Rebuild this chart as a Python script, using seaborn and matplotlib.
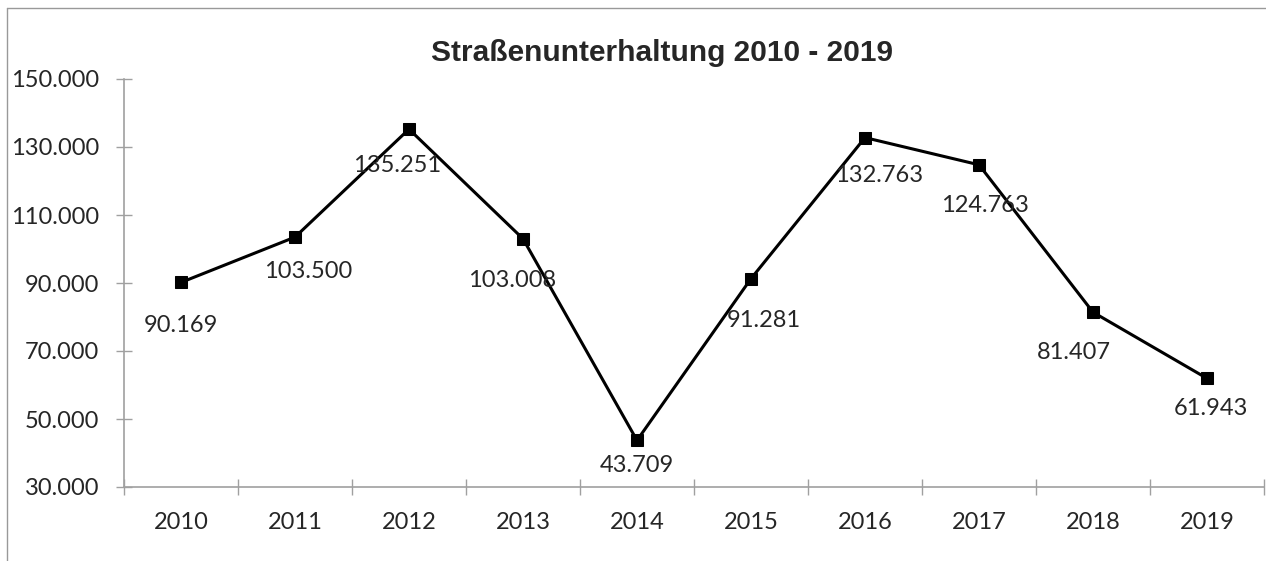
import matplotlib
matplotlib.use("Agg")
import matplotlib.pyplot as plt
import seaborn as sns
import pandas as pd
from matplotlib.ticker import FuncFormatter, FixedLocator
from matplotlib.lines import Line2D

years = ["2010", "2011", "2012", "2013", "2014", "2015", "2016", "2017", "2018", "2019"]
kosten = [90169, 103500, 135251, 103008, 43709, 91281, 132763, 124763, 81407, 61943]
title = "Straßenunterhaltung 2010 - 2019"

# label offsets in pixels (dx, dy) relative to the point
label_offsets = [(0, -43), (13, -34), (-12, -36), (-11, -42), (0, -25),
                 (13, -42), (14, -38), (6, -41), (-19, -40), (4, -30)]


def de_fmt(v, pos=None):
    return f"{int(round(v)):,}".replace(",", ".")


sns.set_style("white", {"xtick.bottom": True, "ytick.left": True})
plt.rcParams["font.family"] = ["Lato", "DejaVu Sans"]

W, H = 1266, 561
fig = plt.figure(figsize=(W / 100, H / 100), dpi=100)
ax = fig.add_axes([124 / W, 1 - 487 / H, 1140 / W, (487 - 79) / H])

df = pd.DataFrame({"Jahr": years, "Kosten": kosten})
sns.lineplot(data=df, x="Jahr", y="Kosten", ax=ax, color="black", linewidth=2.2,
             marker="s", markersize=8, markeredgecolor="black", markerfacecolor="black")

ax.set_xlim(-0.5, len(years) - 0.5)
ax.set_ylim(30000, 150000)
ax.set_yticks(range(30000, 150001, 20000))
ax.yaxis.set_major_formatter(FuncFormatter(de_fmt))
ax.set_xlabel("")
ax.set_ylabel("")

ax.xaxis.set_minor_locator(FixedLocator([i - 0.5 for i in range(len(years) + 1)]))
ax.tick_params(axis="x", which="major", bottom=True, length=0, labelsize=17, pad=18)
ax.tick_params(axis="x", which="minor", bottom=True, length=12, width=1, color="#a0a0a0", direction="inout")
ax.tick_params(axis="y", left=True, length=12, width=1, color="#a0a0a0", direction="inout", labelsize=17, pad=12)

for s in ["top", "right"]:
    ax.spines[s].set_visible(False)
for s in ["left", "bottom"]:
    ax.spines[s].set_color("#a0a0a0")
    ax.spines[s].set_linewidth(1.2)

for i, (v, (dx, dy)) in enumerate(zip(kosten, label_offsets)):
    ax.annotate(de_fmt(v), (i, v), xytext=(dx * 0.72, dy * 0.72), textcoords="offset points",
                ha="center", va="center", fontsize=17)

fig.text(662 / W, 1 - 53 / H, title, ha="center", va="center", fontsize=21.5,
         fontweight="bold", family=["Liberation Sans", "DejaVu Sans"])

# outer chart frame (only left and top visible in the crop)
fig.add_artist(Line2D([7 / W, 7 / W], [0, 1 - 8 / H], transform=fig.transFigure, color="#999999", lw=1))
fig.add_artist(Line2D([7 / W, 1], [1 - 8 / H, 1 - 8 / H], transform=fig.transFigure, color="#999999", lw=1))

fig.savefig("out.png", dpi=100)
